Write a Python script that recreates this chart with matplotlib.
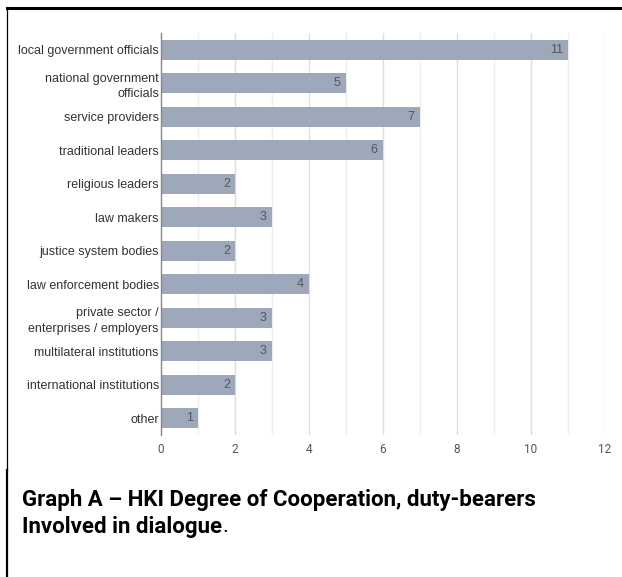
import matplotlib
import matplotlib.pyplot as plt
from matplotlib.lines import Line2D

matplotlib.use("Agg")

categories = [
    "local government officials",
    "national government\nofficials",
    "service providers",
    "traditional leaders",
    "religious leaders",
    "law makers",
    "justice system bodies",
    "law enforcement bodies",
    "private sector /\nenterprises / employers",
    "multilateral institutions",
    "international institutions",
    "other",
]
counts = [11, 5, 7, 6, 2, 3, 2, 4, 3, 3, 2, 1]
x_ticks = [0, 2, 4, 6, 8, 10, 12]

W, H = 622, 577
fig = plt.figure(figsize=(W / 100, H / 100), dpi=100, facecolor="white")
ax = fig.add_axes([161 / W, 1 - 435 / H, (605 - 161) / W, (435 - 33) / H])

ypos = list(range(len(categories)))
ax.barh(ypos, counts, height=0.6, color="#9ea8bb", zorder=2)
for y, v in zip(ypos, counts):
    ax.text(v - 0.14, y, str(v), ha="right", va="center", fontsize=9,
            color="#555555", family="Liberation Sans", zorder=3)

ax.set_xlim(0, 12)
ax.set_ylim(len(categories) - 0.5, -0.5)
ax.set_yticks(ypos)
ax.set_yticklabels(categories, fontsize=9.0, color="#333333", family="Liberation Sans",
                   linespacing=1.4)
ax.set_xticks(x_ticks)
ax.set_xticklabels([str(t) for t in x_ticks], fontsize=8.5, color="#555555", family="Roboto")
ax.tick_params(axis="y", length=0, pad=1.5)
ax.tick_params(axis="x", length=0, pad=6)

for v in range(1, 13):
    ax.axvline(v, color="#dddddd" if v % 2 == 0 else "#eeeeee", lw=1, zorder=1)

for side in ["top", "right", "bottom"]:
    ax.spines[side].set_visible(False)
ax.spines["left"].set_color("#888888")
ax.spines["left"].set_linewidth(1)

# page frame
fig.add_artist(Line2D([7 / W, 1], [1 - 7.5 / H, 1 - 7.5 / H], color="black", lw=2.2))
fig.add_artist(Line2D([6.5 / W, 6.5 / W], [1 - 7 / H, 1 - 470 / H], color="black", lw=0.9))
fig.add_artist(Line2D([7 / W, 7 / W], [1 - 470 / H, 0], color="black", lw=1.6))

cap_size = 16
fig.text(22 / W, 1 - 500 / H, "Graph A – HKI Degree of Cooperation, duty-bearers",
         fontsize=cap_size, fontweight="bold", family="Roboto", color="black", va="center")
t = fig.text(22 / W, 1 - 527 / H, "Involved in dialogue", fontsize=cap_size,
             fontweight="bold", family="Roboto", color="black", va="center")
fig.canvas.draw()
bb = t.get_window_extent()
fig.text(bb.x1 / W, 1 - 527 / H, ".", fontsize=cap_size,
         family="Roboto", color="black", va="center")

fig.savefig("out.png", dpi=100, facecolor="white")
